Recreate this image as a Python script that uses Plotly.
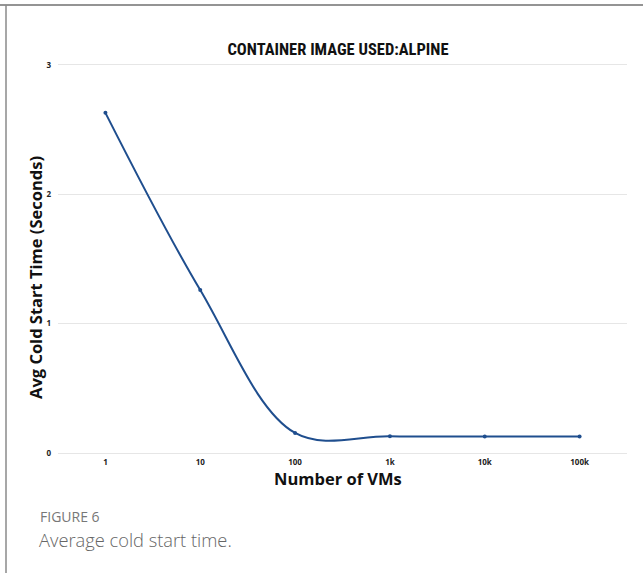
import plotly.graph_objects as go

categories = ["1", "10", "100", "1k", "10k", "100k"]
cold_start = [2.63, 1.26, 0.155, 0.13, 0.128, 0.128]
y_ticks = [0, 1, 2, 3]

W, H = 643, 573
L, R, T, B = 58, 16, 62, 117
pw, ph = W - L - R, H - T - B

def px(x):
    return (x - L) / pw

def py(y):
    return (H - B - y) / ph

fig = go.Figure()
fig.add_trace(go.Scatter(
    x=categories, y=cold_start, mode="lines+markers",
    line=dict(color="#1f4e8e", width=2, shape="spline", smoothing=1),
    marker=dict(size=4, color="#1f4e8e"),
    showlegend=False,
))

fig.update_layout(
    width=W, height=H,
    margin=dict(l=L, r=R, t=T, b=B),
    paper_bgcolor="white", plot_bgcolor="white",
    title=dict(text="<b>CONTAINER IMAGE USED:ALPINE</b>",
               xref="container", x=338 / W, xanchor="center",
               yref="container", y=1 - 49 / H, yanchor="middle",
               font=dict(family="Roboto Condensed, sans-serif", size=16.5, color="#111111")),
    xaxis=dict(type="category", range=[-0.5, 5.5], showgrid=False, zeroline=False,
               showline=False, ticks="",
               tickfont=dict(family="Open Sans, sans-serif", size=8, color="#222222", weight="bold")),
    yaxis=dict(range=[-0.023, 3.023], tickvals=y_ticks, showgrid=True, gridcolor="#e6e6e6", gridwidth=1,
               zeroline=False, showline=False, ticks="", ticklabelstandoff=6,
               tickfont=dict(family="Open Sans, sans-serif", size=8, color="#222222", weight="bold")),
    font=dict(family="Open Sans, sans-serif"),
)

fig.add_annotation(text="<b>Number of VMs</b>", xref="paper", yref="paper",
                   x=px(338), y=py(478), xanchor="center", yanchor="middle", showarrow=False,
                   font=dict(family="Open Sans, sans-serif", size=16.5, color="#111111"))
fig.add_annotation(text="<b>Avg Cold Start Time (Seconds)</b>", xref="paper", yref="paper",
                   x=px(35), y=py(278), xanchor="center", yanchor="middle", showarrow=False,
                   textangle=-90,
                   font=dict(family="Open Sans, sans-serif", size=16.5, color="#111111"))
fig.add_annotation(text="FIGURE 6", xref="paper", yref="paper",
                   x=px(38), y=py(516), xanchor="left", yanchor="middle", showarrow=False,
                   font=dict(family="Open Sans, sans-serif", size=14, color="#777777"))
fig.add_annotation(text="Average cold start time.", xref="paper", yref="paper",
                   x=px(37), y=py(539), xanchor="left", yanchor="middle", showarrow=False,
                   font=dict(family="Open Sans, sans-serif", size=18.3, color="#666666", weight=300))

fig.add_shape(type="line", xref="paper", yref="paper", x0=px(0), x1=px(W), y0=py(5), y1=py(5),
              line=dict(color="#707070", width=1.5))
fig.add_shape(type="line", xref="paper", yref="paper", x0=px(6), x1=px(6), y0=py(5), y1=py(H),
              line=dict(color="#8a8a8a", width=1.5))

fig.write_html("out.html", config={"displayModeBar": False},
               post_script="document.body.style.margin='0';document.body.style.overflow='hidden';")
